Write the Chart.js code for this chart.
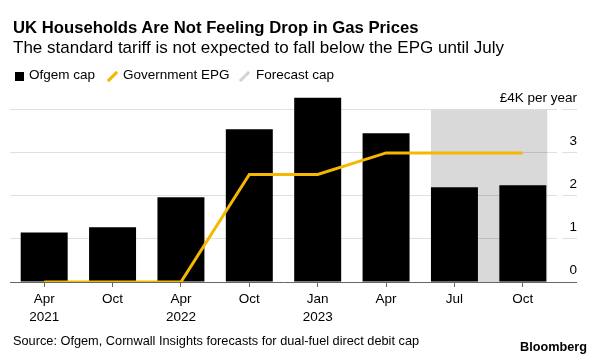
<!DOCTYPE html>
<html>
<head>
<meta charset="utf-8">
<script src="https://cdn.jsdelivr.net/npm/chart.js@4"></script>
<style>
  body { margin: 0; background: #fff; }
  #wrap { position: relative; width: 600px; height: 360px; background: #fff; overflow: hidden;
          font-family: "Liberation Sans", Arial, sans-serif; color: #000; }
  #wrap canvas { position: absolute; left: 0; top: 0; }
  .txt { position: absolute; white-space: nowrap; line-height: 1; }
  .title { left: 13px; top: 20px; font-size: 16.7px; font-weight: bold; }
  .subtitle { left: 13px; top: 39px; font-size: 17px; }
  .leg { top: 68px; font-size: 13.5px; }
  .sq { position: absolute; left: 15px; top: 71.5px; width: 9px; height: 9px; background: #000; }
  .slash { position: absolute; top: 70px; width: 3px; height: 13px; transform: rotate(45deg); }
  .source { left: 13px; top: 334.5px; font-size: 12.75px; }
  .logo { right: 13px; top: 341px; font-size: 12.7px; font-weight: bold; }
</style>
</head>
<body>
<div id="wrap">
  <canvas id="chart" width="600" height="360"></canvas>
  <div class="txt title">UK Households Are Not Feeling Drop in Gas Prices</div>
  <div class="txt subtitle">The standard tariff is not expected to fall below the EPG until July</div>
  <span class="sq"></span>
  <div class="txt leg" style="left:29px">Ofgem cap</div>
  <span class="slash" style="left:111px;background:#f5b800"></span>
  <div class="txt leg" style="left:123px">Government EPG</div>
  <span class="slash" style="left:243px;background:#d4d4d4"></span>
  <div class="txt leg" style="left:256px">Forecast cap</div>
  <div class="txt source">Source: Ofgem, Cornwall Insights forecasts for dual-fuel direct debit cap</div>
  <div class="txt logo">Bloomberg</div>
</div>
<script>
// data (GBP per year)
const labels = [['Apr', '2021'], 'Oct', ['Apr', '2022'], 'Oct', ['Jan', '2023'], 'Apr', 'Jul', 'Oct'];
const ofgemCap = [1150, 1275, 1970, 3550, 4280, 3460, 2200, 2250];
const governmentEPG = [0, 0, 0, 2500, 2500, 3000, 3000, 3000];
const forecast = [false, false, false, false, false, false, true, true];
const yTicks = [0, 1000, 2000, 3000, 4000];
const yTickLabels = ['0', '1', '2', '3', '£4K per year'];

Chart.defaults.font.family = '"Liberation Sans", Arial, sans-serif';
Chart.defaults.color = '#000';

// grey box behind the forecast bars
const forecastShade = {
    id: 'forecastShade',
    beforeDatasetsDraw(chart) {
        const { ctx, scales: { y } } = chart;
        const bars = chart.getDatasetMeta(1).data;
        const idx = forecast.map((f, i) => f ? i : -1).filter(i => i >= 0);
        const first = bars[idx[0]];
        const last = bars[idx[idx.length - 1]];
        const left = first.x - first.width / 2;
        const right = last.x + last.width / 2 + 1;
        const top = y.getPixelForValue(yTicks[yTicks.length - 1]);
        const bottom = y.getPixelForValue(0);
        ctx.save();
        ctx.fillStyle = 'rgba(0,0,0,0.15)';
        ctx.fillRect(left, top, right - left, bottom - top);
        ctx.restore();
    }
};

// top tick label is wider than the axis, so draw it outside the axis clip
const unitLabel = {
    id: 'unitLabel',
    afterDraw(chart) {
        const { ctx, scales: { y } } = chart;
        const last = yTicks.length - 1;
        ctx.save();
        ctx.font = '13.5px "Liberation Sans", Arial, sans-serif';
        ctx.fillStyle = '#000';
        ctx.textAlign = 'right';
        ctx.textBaseline = 'middle';
        ctx.fillText(yTickLabels[last], y.right, y.getPixelForValue(yTicks[last]) - 12);
        ctx.restore();
    }
};

new Chart(document.getElementById('chart'), {
    data: {
        labels: labels,
        datasets: [{
            type: 'line',
            label: 'Government EPG',
            data: governmentEPG,
            borderColor: '#f5b800',
            borderWidth: 3,
            pointRadius: 0,
            tension: 0,
            order: 0
        }, {
            type: 'bar',
            label: 'Ofgem cap',
            data: ofgemCap,
            backgroundColor: '#000',
            barPercentage: 0.687,
            categoryPercentage: 1,
            order: 1
        }]
    },
    options: {
        responsive: false,
        animation: false,
        devicePixelRatio: 1,
        layout: { padding: { left: 10, right: 23, top: 97, bottom: 0 } },
        plugins: {
            legend: { display: false },
            tooltip: { enabled: false }
        },
        scales: {
            x: {
                afterFit: s => { s.height = 78; },
                border: { display: false },
                grid: {
                    offset: false,
                    drawOnChartArea: false,
                    drawTicks: true,
                    tickLength: 5,
                    color: '#666'
                },
                ticks: {
                    font: { size: 13.5, lineHeight: 1.3 },
                    padding: 4,
                    maxRotation: 0,
                    autoSkip: false
                }
            },
            y: {
                position: 'right',
                min: 0,
                max: 4300,
                afterFit: s => { s.width = 20; },
                afterBuildTicks: s => { s.ticks = yTicks.map(v => ({ value: v })); },
                border: { display: false },
                grid: {
                    color: c => c.tick && c.tick.value === 0 ? '#666' : '#e0e0e0',
                    tickColor: c => c.tick && c.tick.value === 0 ? '#666' : '#e0e0e0',
                    tickLength: 20,
                    tickBorderDash: c => c.tick && c.tick.value === 0 ? [] : [0, 5, 15, 0]
                },
                ticks: {
                    crossAlign: 'far',
                    labelOffset: -12,
                    font: { size: 13.5 },
                    callback: (v, i) => i === yTicks.length - 1 ? '' : yTickLabels[yTicks.indexOf(v)]
                }
            }
        }
    },
    plugins: [forecastShade, unitLabel]
});
</script>
</body>
</html>
